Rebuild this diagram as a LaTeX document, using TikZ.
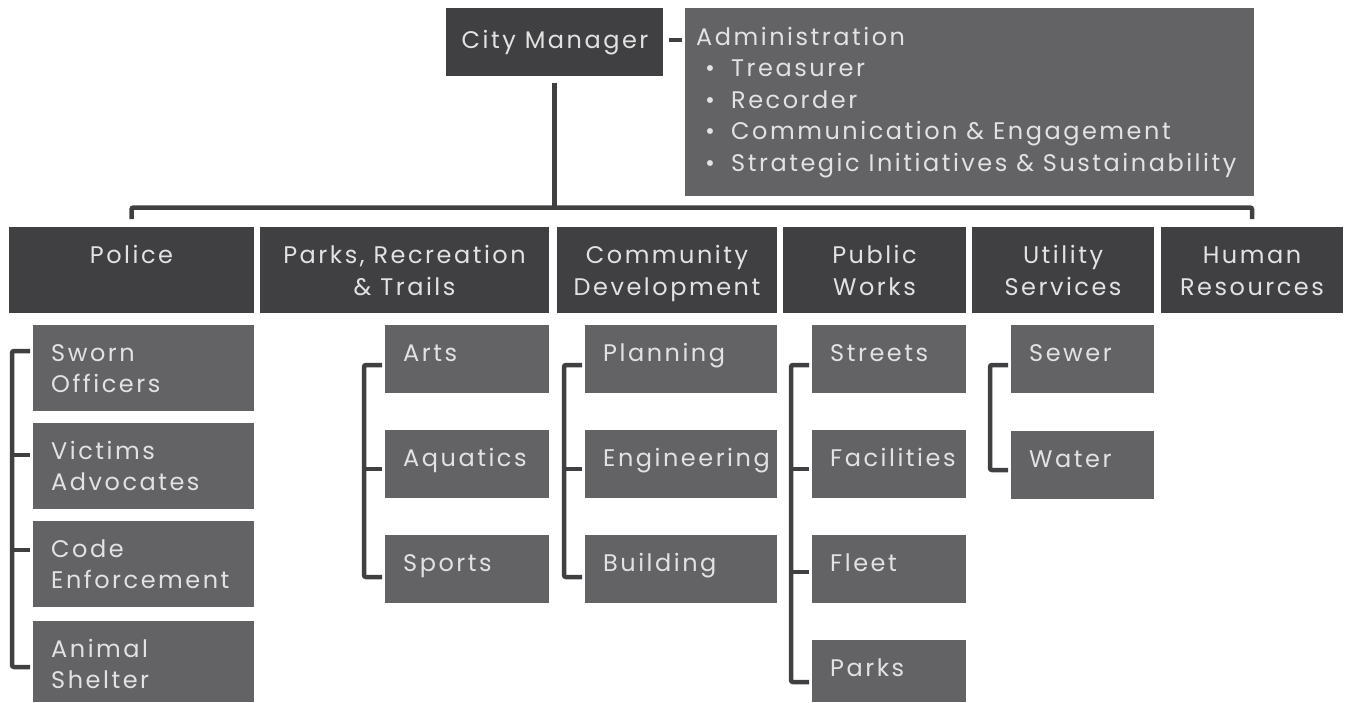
\documentclass[tikz,border=0pt]{standalone}
\usepackage{fontspec}
\setmainfont[LetterSpace=10.5]{Poppins}
\usetikzlibrary{calc}
\definecolor{dark}{HTML}{404042}
\definecolor{mid}{HTML}{636366}
\definecolor{txt}{HTML}{E2E2E2}
\begin{document}
\begin{tikzpicture}[x=1pt,y=-1pt,
  box/.style={inner sep=0pt,outer sep=0pt,anchor=north west},
  deptbox/.style={box,fill=dark},
  subbox/.style={box,fill=mid},
  lbl/.style={text=txt,inner sep=0pt,font=\fontsize{24}{30}\selectfont},
  conn/.style={draw=dark,line width=4.5pt,rounded corners=2pt}]
\useasboundingbox (0,0) rectangle (1351,702);
% top
\node[deptbox,minimum width=217pt,minimum height=68pt] (cm) at (446,8) {};
\node[lbl,anchor=base] (cmT) at (555,48) {City Manager};
\node[subbox,minimum width=569pt,minimum height=188pt] (adm) at (685,8) {};
\node[lbl,anchor=base west] (admT) at (696,45) {Administration};
\foreach \t/\yy [count=\i] in {Treasurer/76,Recorder/108,Communication \& Engagement/139,Strategic Initiatives \& Sustainability/171}{
  \node[lbl,anchor=base] (admB\i) at (710,\yy) {•};
  \node[lbl,anchor=base west] (admL\i) at (731,\yy) {\t};
}
\draw[dark,line width=4.5pt] ($(cm.east)+(6,-2)$) coordinate (dA) -- ($(adm.west |- dA)+(-3,0)$) coordinate (dB);
% departments
\newcommand\dept[6]{%
  \node[deptbox,minimum width=#3pt,minimum height=86pt] (#1) at (#2,227) {};
  \node[lbl,anchor=base] (#1T1) at ($(#1.north)+(0,36)$) {#4};
  \node[lbl,anchor=base] (#1T2) at ($(#1.north)+(0,68)$) {#5};}
\dept{police}{9}{245}{Police}{}{}
\dept{parks}{260}{289}{Parks, Recreation}{\& Trails}{}
\dept{comm}{557}{220}{Community}{Development}{}
\dept{pw}{783}{183}{Public}{Works}{}
\dept{util}{972}{182}{Utility}{Services}{}
\dept{hr}{1161}{182}{Human}{Resources}{}
% bus
\draw[conn] ($(police.north)+(0,-8)$) -- ($(police.north)+(0,-19.5)$) -| ($(hr.north)+(0,-8)$);
\draw[dark,line width=4.5pt] ($(cm.south)+(0,7)$) -- ($(cm.south)+(0,131.5)$);
% sub boxes
\newcommand\sub[7]{%
  \node[subbox,minimum width=#3pt,minimum height=#5pt] (#1) at (#2,#4) {};
  \node[lbl,anchor=base west] (#1T1) at ($(#1.north west)+(18,36)$) {#6};
  \node[lbl,anchor=base west] (#1T2) at ($(#1.north west)+(18,67)$) {#7};}
\sub{sworn}{33}{221}{325}{86}{Sworn}{Officers}
\sub{victims}{33}{221}{423}{86}{Victims}{Advocates}
\sub{code}{33}{221}{521}{86}{Code}{Enforcement}
\sub{animal}{33}{221}{621}{81}{Animal}{Shelter}
\sub{arts}{385}{164}{325}{68}{Arts}{}
\sub{aqua}{385}{164}{430}{68}{Aquatics}{}
\sub{sports}{385}{164}{535}{68}{Sports}{}
\sub{plan}{585}{192}{325}{68}{Planning}{}
\sub{eng}{585}{192}{430}{68}{Engineering}{}
\sub{build}{585}{192}{535}{68}{Building}{}
\sub{streets}{812}{154}{325}{68}{Streets}{}
\sub{fac}{812}{154}{430}{68}{Facilities}{}
\sub{fleet}{812}{154}{535}{68}{Fleet}{}
\sub{pparks}{812}{154}{640}{62}{Parks}{}
\sub{sewer}{1011}{143}{325}{68}{Sewer}{}
\sub{water}{1011}{143}{431}{68}{Water}{}
% brackets
\newcommand\brk[4]{% first node, last node, first offset, last offset
  \draw[conn] ($(#1.north west)+(-3,#3)$) -- ($(#1.north west)+(-21,#3)$) -- ($(#2.north west)+(-21,#4)$) -- ($(#2.north west)+(-3,#4)$);}
\newcommand\tick[2]{\draw[conn] ($(#1.north west)+(-3,#2)$) -- ($(#1.north west)+(-21,#2)$);}
\brk{sworn}{animal}{26}{46}
\tick{victims}{32}\tick{code}{29}
\brk{arts}{sports}{40}{42}
\tick{aqua}{39}
\brk{plan}{build}{40}{42}
\tick{eng}{39}
\brk{streets}{pparks}{40}{42}
\tick{fac}{39}\tick{fleet}{37}
\brk{sewer}{water}{40}{39}
\end{tikzpicture}
\end{document}
